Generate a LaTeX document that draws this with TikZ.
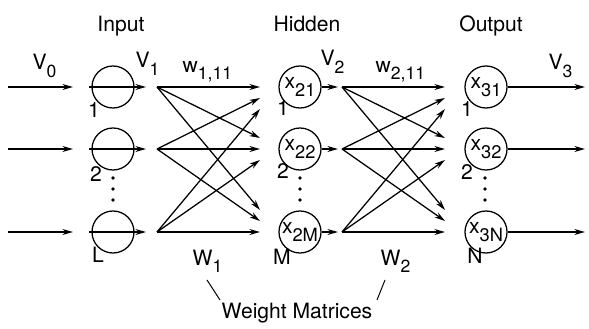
\documentclass[tikz,border=0pt]{standalone}
\usepackage{fontspec}
\setmainfont{TeX Gyre Heros}
\usetikzlibrary{arrows.meta, positioning}
\tikzset{
	neuron/.style={draw, circle, minimum size=1.05cm, inner sep=0pt, font=\fontsize{15}{17}\selectfont}
}
\tikzset{
	lbltext/.style={font=\fontsize{15}{17}\selectfont, inner sep=0pt}
}
\newcommand{\lsub}[2]{#1\raisebox{-5.5pt}{\fontsize{12.5}{13}\selectfont #2}}
\newcommand{\cellx}[1]{x\raisebox{-6pt}{\fontsize{13}{14}\selectfont #1}}

\begin{document}
\begin{tikzpicture}[x=0.025cm, y=-0.025cm, line width=0.9pt, >={Stealth[length=7.5pt, width=4.2pt]}]
  \useasboundingbox (0,0) rectangle (589,328);
  % layer titles
  \node[lbltext, anchor=base] (tin) at (121,32) {Input};
  \node[lbltext, anchor=base] (thd) at (307,32) {Hidden};
  \node[lbltext, anchor=base] (tout) at (491,32) {Output};
  % neurons and straight arrows
  \foreach \r/\y/\h/\o in {1/87/21/31, 2/149/22/32, 3/232/2M/3N} {
    \node[neuron] (in\r) at (113,\y) {};
    \node[neuron] (hd\r) at (300,\y) {\cellx{\h}};
    \node[neuron] (out\r) at (486,\y) {\cellx{\o}};
    \coordinate (a\r) at (8,\y);
    \coordinate (b\r) at (73,\y);
    \coordinate (c\r) at (89,\y);
    \coordinate (d\r) at (146,\y);
    \coordinate (s\r) at (157,\y);
    \coordinate (e\r) at (338,\y);
    \coordinate (t\r) at (342,\y);
    \coordinate (f\r) at (585,\y);
    \draw[->] (a\r) -- (b\r);
    \draw[->] (c\r) -- (d\r);
    \draw[->] (hd\r) -- (e\r);
    \draw[->] (out\r) -- (f\r);
  }
  % fully connected weights
  \foreach \i in {1,2,3} {
    \foreach \j/\yj in {1/87, 2/149, 3/232} {
      \coordinate (p\i\j) at (260,{\yj+11*(\i-\j)});
      \coordinate (q\i\j) at (445,{\yj+11*(\i-\j)});
      \draw[->] (s\i) -- (p\i\j);
      \draw[->] (t\i) -- (q\i\j);
    }
  }
  % vertical dots
  \foreach \x in {113,300,485}
    \foreach \y in {178,189,200}
      \fill (\x,\y) circle (1.4pt);
  % index labels
  \node[lbltext] (n1) at (94,110) {1};
  \node[lbltext] (n2) at (96,174) {2};
  \node[lbltext] (nl) at (98,255) {L};
  \node[lbltext] (m1) at (283,108) {1};
  \node[lbltext] (m2) at (283,171) {2};
  \node[lbltext] (mm) at (282,257) {M};
  \node[lbltext] (k1) at (467,109) {1};
  \node[lbltext] (k2) at (467,172) {2};
  \node[lbltext] (kn) at (475,256) {N};
  % signal and weight labels
  \node[lbltext, anchor=base west] (v0) at (32,70) {\lsub{V}{0}};
  \node[lbltext, anchor=base west] (v1) at (135,68) {\lsub{V}{1}};
  \node[lbltext, anchor=base west] (w111) at (182,72) {\lsub{w}{1,11}};
  \node[lbltext, anchor=base west] (v2) at (320,66) {\lsub{V}{2}};
  \node[lbltext, anchor=base west] (w211) at (375,72) {\lsub{w}{2,11}};
  \node[lbltext, anchor=base west] (v3) at (548,70) {\lsub{V}{3}};
  % weight matrices
  \node[lbltext, anchor=base west] (wa) at (192,265) {\lsub{W}{1}};
  \node[lbltext, anchor=base west] (wb) at (380,265) {\lsub{W}{2}};
  \node[lbltext, anchor=base] (wm) at (297,318) {Weight Matrices};
  \coordinate (la) at (207,280);
  \coordinate (lb) at (220,300);
  \coordinate (lc) at (385,280);
  \coordinate (ld) at (377,300);
  \draw[line width=0.7pt] (la) -- (lb);
  \draw[line width=0.7pt] (lc) -- (ld);
\end{tikzpicture}
\end{document}
